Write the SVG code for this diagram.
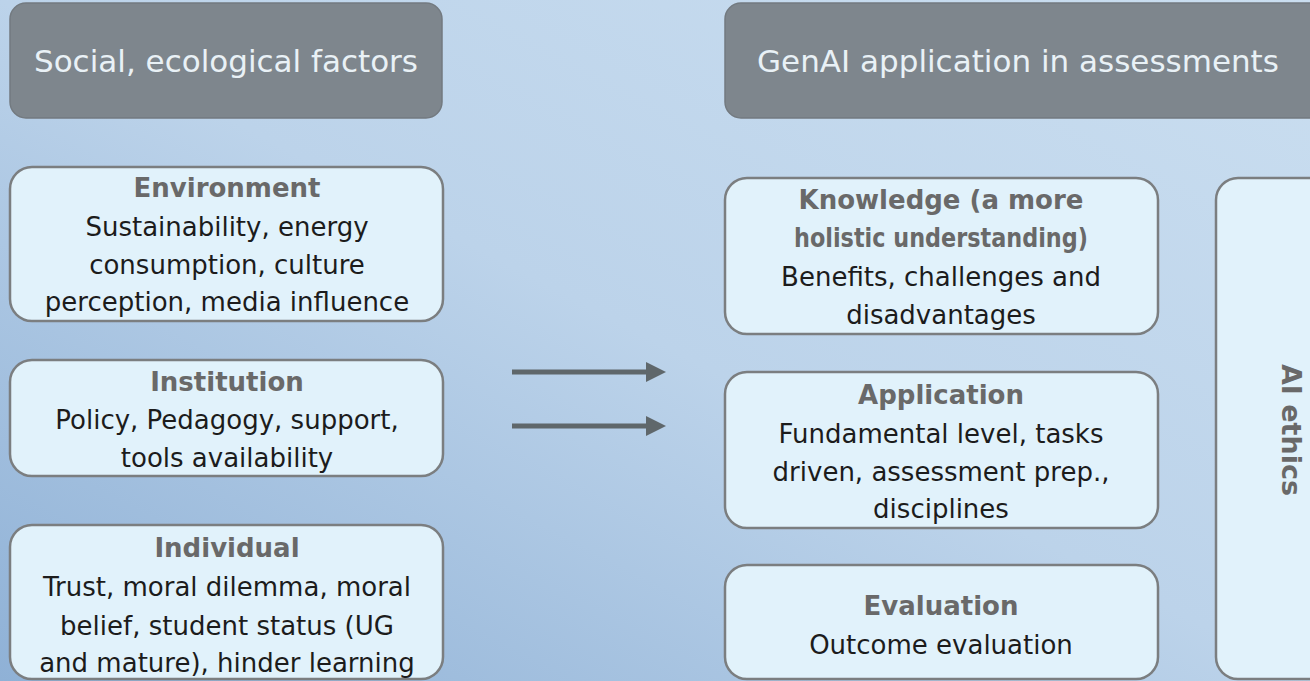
<svg xmlns="http://www.w3.org/2000/svg" width="1310" height="681" viewBox="0 0 1310 681">
<defs>
<linearGradient id="bg" x1="1" y1="0" x2="0" y2="1">
<stop offset="0" stop-color="#cadef0"/>
<stop offset="0.5" stop-color="#bcd3ea"/>
<stop offset="1" stop-color="#8fb1d6"/>
</linearGradient>
<marker id="ah" viewBox="0 0 10 10" refX="2" refY="5" markerWidth="4.4" markerHeight="4" orient="auto" markerUnits="strokeWidth">
<path d="M0,0 L10,5 L0,10 z" fill="#5f676b"/>
</marker>
<style>
.hdr{fill:#7e868d;stroke:#737a80;stroke-width:1.5}
.hdrt{font-family:"DejaVu Sans","Open Sans",sans-serif;font-size:31px;fill:#e9f1f6;text-anchor:middle}
.box{fill:#e1f2fb;stroke:#7b7e80;stroke-width:2.5}
.ttl{font-family:"DejaVu Sans","Open Sans",sans-serif;font-size:26px;font-weight:bold;fill:#696969;text-anchor:middle}
.txt{font-family:"DejaVu Sans","Open Sans",sans-serif;font-size:26px;fill:#1c1c1c;text-anchor:middle}
.arr{stroke:#5f676b;stroke-width:5;fill:none}
</style>
</defs>
<rect x="0" y="0" width="1310" height="681" fill="url(#bg)"/>

<g id="hdr-social">
<rect class="hdr" x="10" y="3" width="432" height="115" rx="16"/>
<text class="hdrt" x="226" y="72">Social, ecological factors</text>
</g>
<g id="hdr-genai">
<rect class="hdr" x="725" y="3" width="600" height="115" rx="16"/>
<text class="hdrt" x="1018" y="72">GenAI application in assessments</text>
</g>

<g id="environment">
<rect class="box" x="10" y="167" width="433" height="154" rx="22"/>
<text class="ttl" x="227" y="197">Environment</text>
<text class="txt" x="227" y="236">Sustainability, energy</text>
<text class="txt" x="227" y="274">consumption, culture</text>
<text class="txt" x="227" y="311">perception, media influence</text>
</g>

<g id="institution">
<rect class="box" x="10" y="360" width="433" height="116" rx="22"/>
<text class="ttl" x="227" y="391">Institution</text>
<text class="txt" x="227" y="429">Policy, Pedagogy, support,</text>
<text class="txt" x="227" y="467">tools availability</text>
</g>

<g id="individual">
<rect class="box" x="10" y="525" width="433" height="154" rx="22"/>
<text class="ttl" x="227" y="557">Individual</text>
<text class="txt" x="227" y="596">Trust, moral dilemma, moral</text>
<text class="txt" x="227" y="635">belief, student status (UG</text>
<text class="txt" x="227" y="672">and mature), hinder learning</text>
</g>

<g id="knowledge">
<rect class="box" x="725" y="178" width="433" height="156" rx="22"/>
<text class="ttl" x="941" y="209">Knowledge (a more</text>
<text class="ttl" x="941" y="247" textLength="294" lengthAdjust="spacingAndGlyphs">holistic understanding)</text>
<text class="txt" x="941" y="286">Benefits, challenges and</text>
<text class="txt" x="941" y="324">disadvantages</text>
</g>

<g id="application">
<rect class="box" x="725" y="372" width="433" height="156" rx="22"/>
<text class="ttl" x="941" y="404">Application</text>
<text class="txt" x="941" y="443">Fundamental level, tasks</text>
<text class="txt" x="941" y="481">driven, assessment prep.,</text>
<text class="txt" x="941" y="518">disciplines</text>
</g>

<g id="evaluation">
<rect class="box" x="725" y="565" width="433" height="114" rx="22"/>
<text class="ttl" x="941" y="615">Evaluation</text>
<text class="txt" x="941" y="654">Outcome evaluation</text>
</g>

<g id="ai-ethics">
<rect class="box" x="1216" y="178" width="120" height="501" rx="22"/>
<text class="ttl" style="font-size:27px" transform="translate(1282,430) rotate(90)" x="0" y="0">AI ethics</text>
</g>

<g id="connectors">
<line class="arr" x1="512" y1="372" x2="650" y2="372" marker-end="url(#ah)"/>
<line class="arr" x1="512" y1="426" x2="650" y2="426" marker-end="url(#ah)"/>
</g>
</svg>
